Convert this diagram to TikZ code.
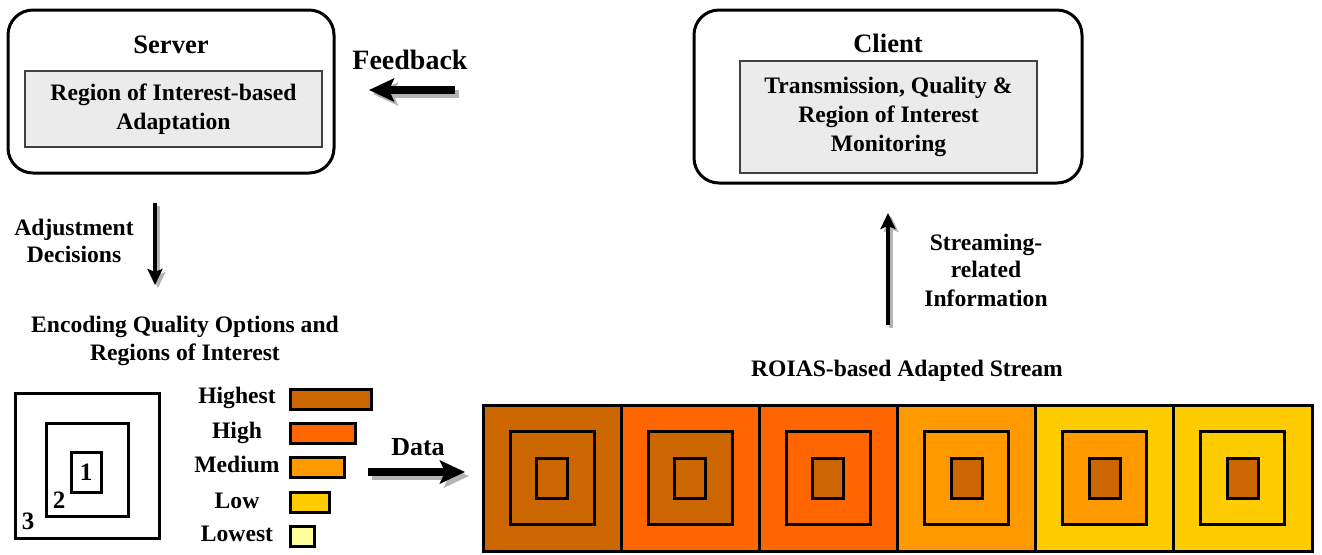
\documentclass[tikz,border=0pt]{standalone}
\usepackage{fontspec}
\setmainfont{Liberation Serif}
\usetikzlibrary{arrows.meta}
\definecolor{qA}{HTML}{CC6600}
\definecolor{qB}{HTML}{FF6600}
\definecolor{qC}{HTML}{FF9900}
\definecolor{qD}{HTML}{FFCC00}
\definecolor{qE}{HTML}{FFFF99}
\definecolor{boxgray}{HTML}{EBEBEB}
\definecolor{shadowgray}{HTML}{B4B4B4}
\begin{document}
\begin{tikzpicture}[x=0.5pt,y=-0.5pt,
  every node/.style={font=\bfseries\fontsize{11.8}{14.5}\selectfont, inner sep=0pt},
  outerbox/.style={draw, line width=1.5pt, rounded corners=12.5pt},
  innerbox/.style={draw=black!75, line width=1pt, fill=boxgray, align=center},
  title/.style={font=\bfseries\fontsize{13.3}{16}\selectfont, anchor=base},
  txt/.style={anchor=base},
  num/.style={font=\bfseries\fontsize{12.5}{15}\selectfont},
  sq/.style={draw, line width=1.5pt},
  bar/.style={draw, line width=1.5pt, anchor=west, minimum height=10pt},
  fatarrow/.style={line width=4.25pt, -{Stealth[length=12.5pt,width=11.5pt,inset=2.5pt]}},
  slimarrow/.style={line width=2.25pt, -{Stealth[length=8pt,width=7.5pt,inset=1.5pt]}},
  shadowcol/.style={draw=shadowgray}
]
\useasboundingbox (0,0) rectangle (1322,554);

% Server
\node[outerbox, minimum width=163pt, minimum height=81.5pt] (server) at (171,91.5) {};
\node[title] (servert) at (171,53) {Server};
\node[innerbox, minimum width=148.5pt, minimum height=38pt] (roia) at (173.5,109) {Region of Interest-based\\Adaptation};

% Client
\node[outerbox, minimum width=194pt, minimum height=86.5pt] (client) at (888,96.5) {};
\node[title] (clientt) at (888,52) {Client};
\node[innerbox, minimum width=148.5pt, minimum height=56pt] (mon) at (888.5,117) {Transmission, Quality \&\\Region of Interest\\Monitoring};

% Feedback
\node[anchor=base, font=\bfseries\fontsize{14}{16}\selectfont] (fb) at (410,69) {Feedback};
\coordinate (fbs) at (455,90);
\coordinate (fbe) at (369,90);
\draw[fatarrow, shadowcol] ([shift={(4,4)}]fbs) -- ([shift={(4,4)}]fbe);
\draw[fatarrow] (fbs) -- (fbe);

% Adjustment decisions
\node[txt] (adj1) at (74,235) {Adjustment};
\node[txt] (adj2) at (74,262) {Decisions};
\coordinate (ads) at (155,203);
\coordinate (ade) at (155,285);
\draw[slimarrow, shadowcol] ([shift={(3,3)}]ads) -- ([shift={(3,3)}]ade);
\draw[slimarrow] (ads) -- (ade);

% Encoding options
\node[txt] (enc1) at (185,332) {Encoding Quality Options and};
\node[txt] (enc2) at (185,360) {Regions of Interest};

% Nested regions
\node[sq, minimum width=72pt, minimum height=72.5pt] (r3) at (87,465.5) {};
\node[sq, minimum width=41pt, minimum height=46.5pt] (r2) at (87,469.5) {};
\node[sq, num, minimum width=15pt, minimum height=20pt] (r1) at (86,472) {1};
\node[num] (n2) at (59,500) {2};
\node[num] (n3) at (28,521) {3};

% Legend
\node[txt] (lh1) at (237,403) {Highest};
\node[txt] (lh2) at (237,438) {High};
\node[txt] (lh3) at (237,472) {Medium};
\node[txt] (lh4) at (237,508) {Low};
\node[txt] (lh5) at (237,541) {Lowest};
\node[bar, fill=qA, minimum width=40.5pt] (b1) at (289,399) {};
\node[bar, fill=qB, minimum width=32.5pt] (b2) at (289,433) {};
\node[bar, fill=qC, minimum width=27pt] (b3) at (289,467) {};
\node[bar, fill=qD, minimum width=19.5pt] (b4) at (289,502) {};
\node[bar, fill=qE, minimum width=12pt] (b5) at (289,536) {};

% Data
\node[anchor=base, font=\bfseries\fontsize{13}{16}\selectfont] (data) at (418,455) {Data};
\coordinate (dts) at (368,472);
\coordinate (dte) at (465,472);
\draw[fatarrow, shadowcol] ([shift={(4,4)}]dts) -- ([shift={(4,4)}]dte);
\draw[fatarrow] (dts) -- (dte);

% Stream
\node[txt] (stitle) at (907,376) {ROIAS-based Adapted Stream};
\foreach \o/\m [count=\i from 0] in {qA/qA, qB/qA, qB/qB, qC/qC, qD/qC, qD/qD} {
  \node[sq, fill=\o, minimum width=69.08pt, minimum height=73pt] (s\i) at ({483+138.17*(\i+0.5)},478) {};
  \node[sq, fill=\m, minimum width=42pt, minimum height=46.5pt] (m\i) at (s\i) {};
  \node[sq, fill=qA, minimum width=15.5pt, minimum height=20pt] (c\i) at (s\i) {};
}

% Streaming-related information
\coordinate (ups) at (888,325);
\coordinate (upe) at (888,213);
\draw[slimarrow, shadowcol] ([shift={(3,3)}]ups) -- ([shift={(3,3)}]upe);
\draw[slimarrow] (ups) -- (upe);
\node[txt] (sr1) at (986,250) {Streaming-};
\node[txt] (sr2) at (986,277) {related};
\node[txt] (sr3) at (986,306) {Information};
\end{tikzpicture}
\end{document}
